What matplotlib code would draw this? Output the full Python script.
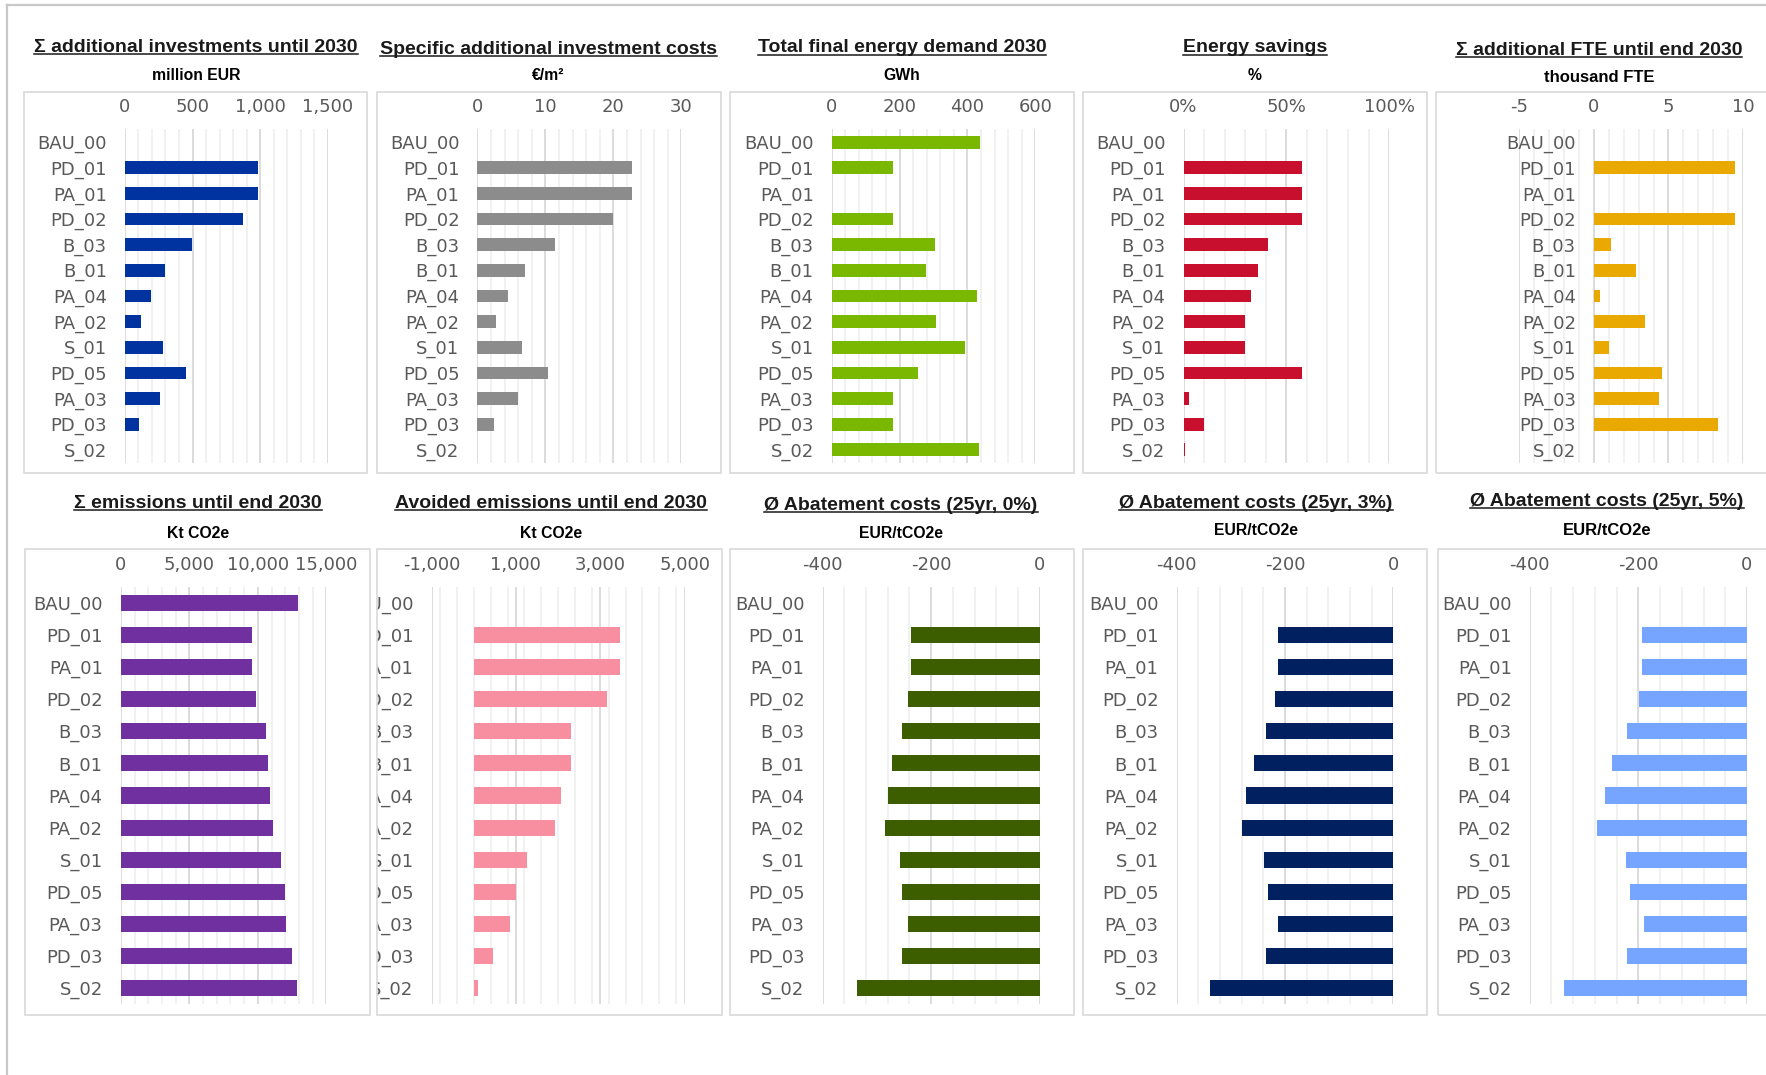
import matplotlib
matplotlib.use("Agg")
import matplotlib.pyplot as plt
from matplotlib.ticker import FuncFormatter, MultipleLocator, FixedLocator
from matplotlib.patches import Rectangle
from matplotlib.lines import Line2D
from matplotlib.transforms import Bbox, TransformedBbox

plt.rcParams["axes.unicode_minus"] = False

# ---------------------------------------------------------------- data
scenarios = ["BAU_00", "PD_01", "PA_01", "PD_02", "B_03", "B_01", "PA_04",
             "PA_02", "S_01", "PD_05", "PA_03", "PD_03", "S_02"]

invest_total_meur = [0, 985, 985, 870, 495, 295, 195, 118, 283, 450, 262, 105, 0]
invest_specific_eur_m2 = [0, 22.8, 22.8, 19.9, 11.4, 7.0, 4.5, 2.7, 6.5, 10.3, 6.0, 2.5, 0]
final_energy_gwh = [438, 182, 0, 182, 304, 277, 428, 308, 393, 255, 182, 182, 433]
energy_savings_pct = [0, 57.6, 57.6, 57.6, 41.3, 36.2, 32.6, 29.7, 29.7, 57.6, 2.5, 9.8, 0.9]
add_fte_thousand = [0, 9.44, 0, 9.44, 1.14, 2.84, 0.43, 3.45, 1.03, 4.59, 4.38, 8.32, 0]

emissions_kt = [12960, 9545, 9545, 9880, 10616, 10750, 10850, 11085, 11720,
                11955, 12055, 12490, 12860]
avoided_kt = [0, 3470, 3470, 3157, 2296, 2296, 2078, 1936, 1260, 998, 856, 463, 104]
abatement_0 = [0, -237.6, -237.6, -243.6, -254.5, -271.5, -280, -285, -257,
               -254.5, -243.6, -254.5, -337.4]
abatement_3 = [0, -212.7, -212.7, -218.6, -234.7, -257.6, -272, -279.7, -238,
               -232, -212.7, -234.7, -338]
abatement_5 = [0, -192.6, -192.6, -198, -220.9, -248.5, -262, -276, -223.3,
               -215.3, -189.6, -220.9, -337.4]

titles_top = ["Σ additional investments until 2030",
              "Specific additional investment costs",
              "Total final energy demand 2030",
              "Energy savings",
              "Σ additional FTE until end 2030"]
units_top = ["million EUR", "€/m²", "GWh", "%", "thousand FTE"]
titles_bottom = ["Σ emissions until end 2030",
                 "Avoided emissions until end 2030",
                 "Ø Abatement costs (25yr, 0%)",
                 "Ø Abatement costs (25yr, 3%)",
                 "Ø Abatement costs (25yr, 5%)"]
units_bottom = ["Kt CO2e", "Kt CO2e", "EUR/tCO2e", "EUR/tCO2e", "EUR/tCO2e"]

# ---------------------------------------------------------------- figure
W, H = 1766, 1075
fig = plt.figure(figsize=(W / 100, H / 100), dpi=100)
fig.patch.set_facecolor("white")

GRAY_TXT = "#595959"
TITLE_FONT = "Liberation Sans"
TICK_FONT = "DejaVu Sans"


def fig_rect(x0, x1, y0, y1):
    return [x0 / W, 1 - y1 / H, (x1 - x0) / W, (y1 - y0) / H]


def thousands(v, _):
    return f"{v:,.0f}"


def percent(v, _):
    return f"{v:.0f}%"


# outer sheet frame
fig.add_artist(Line2D([7 / W, 1], [1 - 5 / H, 1 - 5 / H], transform=fig.transFigure,
                      color="#C8C8C8", lw=1.6))
fig.add_artist(Line2D([7 / W, 7 / W], [0, 1 - 5 / H], transform=fig.transFigure,
                      color="#C8C8C8", lw=1.6))

panels = [
    dict(vals=invest_total_meur, color="#0033A0", box=(24, 367), ax=(124.9, 327.8),
         xlim=(0, 1500), major=[0, 500, 1000, 1500], minor=100, fmt=thousands, row=0),
    dict(vals=invest_specific_eur_m2, color="#8C8C8C", box=(376.5, 720.7), ax=(477.5, 681.4),
         xlim=(0, 30), major=[0, 10, 20, 30], minor=2, fmt=thousands, row=0),
    dict(vals=final_energy_gwh, color="#7AB800", box=(729.8, 1074.2), ax=(831.8, 1035.2),
         xlim=(0, 600), major=[0, 200, 400, 600], minor=40, fmt=thousands, row=0),
    dict(vals=energy_savings_pct, color="#C8102E", box=(1082.5, 1426.7), ax=(1183.5, 1389.2),
         xlim=(0, 100), major=[0, 50, 100], minor=10, fmt=percent, row=0),
    dict(vals=add_fte_thousand, color="#E9A900", box=(1436, 1790), ax=(1519.3, 1743),
         xlim=(-5, 10), major=[-5, 0, 5, 10], minor=1, fmt=thousands, row=0, zero_axis=True),
    dict(vals=emissions_kt, color="#7030A0", box=(25.3, 370), ax=(120.8, 326.4),
         xlim=(0, 15000), major=[0, 5000, 10000, 15000], minor=1000, fmt=thousands, row=1),
    dict(vals=avoided_kt, color="#F78FA1", box=(377.4, 722), ax=(431.6, 684.6),
         xlim=(-1000, 5000), major=[-1000, 1000, 3000, 5000], minor=400, fmt=thousands, row=1,
         clip_labels=True),
    dict(vals=abatement_0, color="#3D5E00", box=(729.8, 1074.2), ax=(822.6, 1039.8),
         xlim=(-400, 0), major=[-400, -200, 0], minor=40, fmt=thousands, row=1),
    dict(vals=abatement_3, color="#002060", box=(1083.4, 1426.7), ax=(1176.6, 1393.3),
         xlim=(-400, 0), major=[-400, -200, 0], minor=40, fmt=thousands, row=1),
    dict(vals=abatement_5, color="#75A5FF", box=(1437.7, 1790), ax=(1529.7, 1747),
         xlim=(-400, 0), major=[-400, -200, 0], minor=40, fmt=thousands, row=1),
]

row_geom = {
    0: dict(box=(91.7, 472.7), ax=(129.3, 462.7)),
    1: dict(box=(549.3, 1014.6), ax=(587.0, 1004.0)),
}

ypos = list(range(len(scenarios)))

for p in panels:
    g = row_geom[p["row"]]
    bx0, bx1 = p["box"]
    by0, by1 = g["box"]
    fig.add_artist(Rectangle((bx0 / W, 1 - by1 / H), (bx1 - bx0) / W, (by1 - by0) / H,
                             transform=fig.transFigure, fill=False,
                             edgecolor="#D9D9D9", lw=1.2))

    ax = fig.add_axes(fig_rect(p["ax"][0], p["ax"][1], g["ax"][0], g["ax"][1]))
    ax.set_facecolor("none")
    ax.barh(ypos, p["vals"], height=0.5, color=p["color"], zorder=3)
    ax.set_ylim(len(scenarios) - 0.5, -0.5)
    ax.set_xlim(*p["xlim"])

    ax.xaxis.set_major_locator(FixedLocator(p["major"]))
    ax.xaxis.set_minor_locator(MultipleLocator(p["minor"]))
    ax.xaxis.set_major_formatter(FuncFormatter(p["fmt"]))
    ax.xaxis.tick_top()
    ax.grid(which="minor", axis="x", color="#EFEFEF", lw=1.2, zorder=0)
    ax.grid(which="major", axis="x", color="#D9D9D9", lw=1.3, zorder=1)
    ax.set_axisbelow(True)

    ax.set_yticks(ypos)
    ax.set_yticklabels(scenarios)
    ax.tick_params(axis="x", which="both", length=0, pad=9.5, labelsize=13,
                   labelcolor=GRAY_TXT, labelfontfamily=TICK_FONT)
    ax.tick_params(axis="y", length=0, pad=13, labelsize=13, labelcolor=GRAY_TXT,
                   labelfontfamily=TICK_FONT)
    for s in ax.spines.values():
        s.set_visible(False)
    if p.get("zero_axis"):
        ax.spines["left"].set_position(("data", 0))

    if p.get("clip_labels"):
        clip = TransformedBbox(Bbox.from_extents(bx0 / W, 0, 1, 1), fig.transFigure)
        for lbl in ax.get_yticklabels():
            lbl.set_clip_box(clip)
            lbl.set_clip_on(True)

# ---------------------------------------------------------------- titles
top_centers = [196, 548, 902, 1255, 1599]
top_base = [52, 53.5, 52.5, 52.5, 55]
top_unit_y = [75, 76, 76, 76, 77]
top_unit_size = [11.3, 11.3, 11.3, 11.3, 12]
bot_centers = [198, 551, 901, 1256, 1607]
bot_base = [508, 508, 510, 507.5, 506]
bot_unit_y = [533, 533, 533, 530, 530]
bot_unit_size = [11.3, 11.3, 11.3, 11.3, 12]

title_items = []
for item in zip(top_centers, top_base, top_unit_y, top_unit_size, titles_top, units_top):
    title_items.append(item)
for item in zip(bot_centers, bot_base, bot_unit_y, bot_unit_size, titles_bottom, units_bottom):
    title_items.append(item)

renderer = fig.canvas.get_renderer()
for cx, by, uy, us, t, u in title_items:
    txt = fig.text(cx / W, 1 - by / H, t, ha="center", va="baseline",
                   fontfamily=TITLE_FONT, fontweight="bold", fontsize=14, color="#1A1A1A")
    ext = txt.get_window_extent(renderer)
    uline_y = 1 - (by + 2) / H
    fig.add_artist(Line2D([ext.x0 / W, ext.x1 / W], [uline_y, uline_y],
                          transform=fig.transFigure, color="#1A1A1A", lw=1.1))
    fig.text(cx / W, 1 - uy / H, u, ha="center", va="center",
             fontfamily=TITLE_FONT, fontweight="bold", fontsize=us, color="black")

fig.savefig("out.png", dpi=100)
